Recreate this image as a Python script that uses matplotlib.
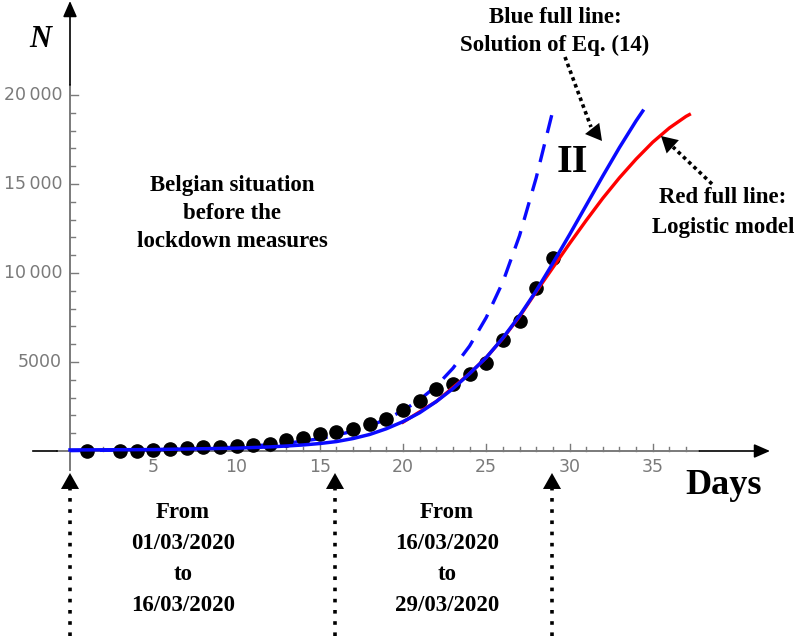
import numpy as np
from matplotlib import pyplot as plt

# Belgian cumulative cases, March 2020 (day = day of the month)
days = [1, 3, 4, 5, 6, 7, 8, 9, 10, 11, 12, 13, 14, 15, 16, 17, 18, 19,
        20, 21, 22, 23, 24, 25, 26, 27, 28, 29]
cases = [2, 13, 23, 50, 109, 169, 200, 239, 267, 330, 420, 600, 720, 930,
         1060, 1250, 1500, 1795, 2290, 2830, 3460, 3780, 4300, 4940, 6260,
         7330, 9150, 10840]

# blue full line: solution of Eq. (14)
blue_days = [0, 5, 10, 12, 13, 14, 15, 16, 17, 18, 19, 20, 21, 22, 23, 24,
             25, 26, 27, 28, 29, 30, 31, 32, 33, 34, 34.4]
blue_n = [60, 80, 160, 230, 280, 340, 420, 530, 700, 930, 1250, 1650, 2150,
          2780, 3500, 4350, 5250, 6350, 7600, 9000, 10550, 12150, 13800,
          15450, 17050, 18550, 19100]

# blue dashed line
dash_days = [0, 5, 10, 13, 15, 17, 18, 19, 20, 21, 22, 23, 24, 25, 26, 27,
             28, 29.1]
dash_n = [20, 65, 210, 430, 690, 1110, 1410, 1790, 2270, 2880, 3650, 4650,
          5900, 7500, 9500, 12100, 15350, 19500]

# red full line: logistic model
red_days = [20, 22, 24, 25, 26, 27, 28, 29, 30, 31, 32, 33, 34, 35, 36, 37,
            37.2]
red_n = [1620, 2780, 4350, 5250, 6330, 7550, 8950, 10300, 11650, 12950,
         14200, 15350, 16400, 17350, 18150, 18800, 18900]

x_ticks = [5, 10, 15, 20, 25, 30, 35]
y_ticks = [5000, 10000, 15000, 20000]
y_labels = ['5000', '10\u2009000', '15\u2009000', '20\u2009000']


# pixel -> data helpers (axes fill the whole figure)
def X(px):
    return (px - 70) / 16.65


def Y(py):
    return (451 - py) / 0.0178


gray = '#7a7a7a'
blue = '#0a0aff'
red = '#ff0000'
serif = 'Liberation Serif'

fig = plt.figure(figsize=(7.98, 6.36), dpi=100)
ax = fig.add_axes([0, 0, 1, 1])
ax.set_xlim(X(0), X(798))
ax.set_ylim(Y(636), Y(0))
ax.axis('off')

# axes
ax.plot([-0.8, 37.8], [0, 0], color=gray, lw=1.4, zorder=1)
ax.plot([X(33), -0.8], [0, 0], color='k', lw=1.2, zorder=1)
ax.annotate('', xy=(X(770), 0), xytext=(37.8, 0),
            arrowprops=dict(arrowstyle='-|>,head_length=0.8,head_width=0.35',
                            color='k', lw=1.2, mutation_scale=12,
                            shrinkA=0, shrinkB=0))
ax.plot([0, 0], [-1070, 20560], color=gray, lw=1.4, zorder=1)
ax.annotate('', xy=(0, Y(1)), xytext=(0, 20560),
            arrowprops=dict(arrowstyle='-|>,head_length=0.8,head_width=0.35',
                            color='k', lw=1.2, mutation_scale=12,
                            shrinkA=0, shrinkB=0))

# ticks
for d in range(1, 38):
    h = 7 if d % 5 == 0 else 4
    ax.plot([d, d], [0, h / 0.0178], color=gray, lw=1.0, zorder=1)
for n in range(1000, 21000, 1000):
    w = 8 if n % 5000 == 0 else 4.5
    ax.plot([0, w / 16.65], [n, n], color=gray, lw=1.0, zorder=1)
for t in x_ticks:
    ax.text(t, Y(467), str(t), ha='center', va='center', color=gray,
            fontsize=12.5, family='DejaVu Sans')
for t, lab in zip(y_ticks, y_labels):
    ax.text(X(62), t, lab, ha='right', va='center', color=gray,
            fontsize=12.5, family='DejaVu Sans')

# curves and data
ax.plot(dash_days, dash_n, color=blue, lw=2.4, dashes=(5.5, 3.5), zorder=2)
ax.plot(days, cases, 'o', color='k', ms=9.5, zorder=3)
ax.plot(red_days, red_n, color=red, lw=2.4, zorder=4)
ax.plot(blue_days, blue_n, color=blue, lw=2.5, zorder=5)

# labels
ax.text(X(40), Y(47), 'N', ha='center', va='baseline', fontsize=22,
        family=serif, weight='bold', style='italic')
ax.text(X(724), Y(494), 'Days', ha='center', va='baseline', fontsize=26,
        family=serif, weight='bold')
ax.text(X(572), Y(172), 'II', ha='center', va='baseline', fontsize=29,
        family=serif, weight='bold')

notes = [
    (232, 191, 'Belgian situation'), (232, 219, 'before the'),
    (232, 247, 'lockdown measures'),
    (555, 23, 'Blue full line:'), (555, 51, 'Solution of Eq. (14)'),
    (723, 203, 'Red full line:'), (723, 233, 'Logistic model'),
    (183, 518, 'From'), (183, 549, '01/03/2020'), (183, 580, 'to'),
    (183, 611, '16/03/2020'),
    (447, 518, 'From'), (447, 549, '16/03/2020'), (447, 580, 'to'),
    (447, 611, '29/03/2020'),
]
for px, py, s in notes:
    ax.text(X(px), Y(py), s, ha='center', va='baseline', fontsize=16.5,
            family=serif, weight='bold')


# dotted arrows
def dotted_arrow(p0, p1, tip, gap):
    ax.plot([X(p0[0]), X(p1[0])], [Y(p0[1]), Y(p1[1])], color='k', lw=2.6,
            dashes=(1, gap), dash_capstyle='butt', zorder=6)
    ax.annotate('', xy=(X(tip[0]), Y(tip[1])), xytext=(X(p1[0]), Y(p1[1])),
                arrowprops=dict(arrowstyle='-|>,head_length=1.15,head_width=0.65',
                                color='k', lw=0, mutation_scale=10,
                                shrinkA=0, shrinkB=0), zorder=6)


for px in (70, 335, 552):
    dotted_arrow((px, 636), (px, 489), (px, 473), 2.1)
dotted_arrow((565, 57), (591, 127), (602, 141), 1.0)
dotted_arrow((712, 184), (673, 147), (661, 136), 1.0)

fig.savefig('out.png', dpi=100)
